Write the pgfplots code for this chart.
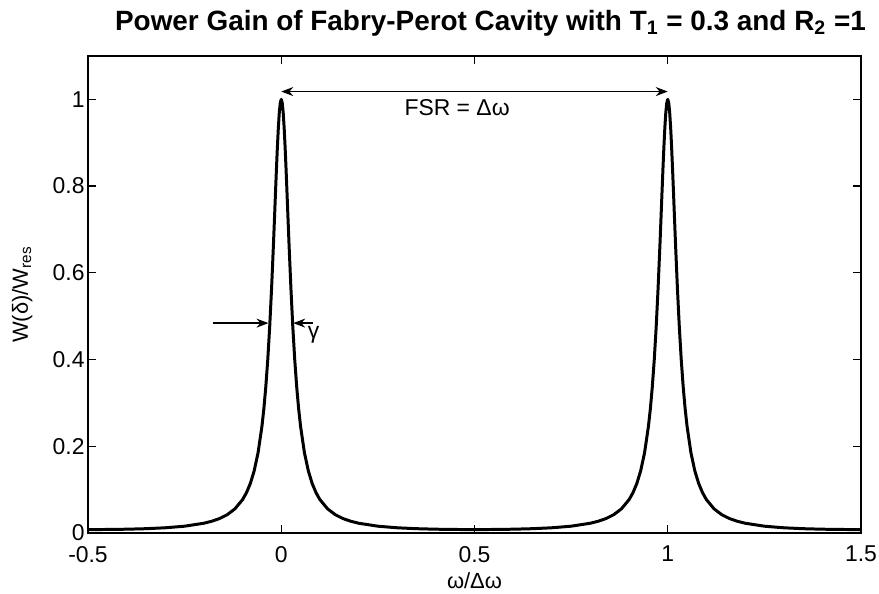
\documentclass[border=0pt]{standalone}
\usepackage{fontspec}
\setmainfont{Liberation Sans}
\usepackage{pgfplots}
\pgfplotsset{compat=1.18}
\usetikzlibrary{arrows.meta}
\begin{document}
\begin{tikzpicture}
\begin{axis}[
  name=ax,
  scale only axis, width=386.5bp, height=238.5bp,
  xmin=-0.5, xmax=1.5, ymin=0, ymax=1.1,
  xtick={-0.5,0,0.5,1,1.5}, xticklabels={-0.5,0,0.5,1,1.5},
  ytick={0,0.2,0.4,0.6,0.8,1}, yticklabels={0,0.2,0.4,0.6,0.8,1},
  tick align=inside, tick pos=both, major tick length=4bp,
  axis line style={line width=0.6pt},
  every tick/.style={line width=0.6pt, black},
  ticklabel style={font=\fontsize{11.5}{13}\selectfont},
  xticklabel style={yshift=-3bp},
  yticklabel style={xshift=1.8bp},
  xlabel={ω/Δω}, ylabel={W(δ)/W\textsubscript{res}},
  label style={font=\fontsize{11}{13}\selectfont},
  xlabel style={at={(axis description cs:0.5,-0.1)}, anchor=center},
  ylabel style={at={(axis description cs:-0.085,0.5)}, anchor=center},
  title={Power Gain of Fabry-Perot Cavity with T\textsubscript{1} = 0.3 and R\textsubscript{2} =1},
  title style={font=\fontsize{14}{16}\bfseries\selectfont, at={(axis description cs:0.5,1)}, anchor=center, yshift=10.5bp, xshift=8bp},
  clip=false,
]
\addplot[black, line width=1.5pt, line join=round] coordinates {
(-0.5,0.00791) (-0.45,0.00811) (-0.4,0.00874) (-0.35,0.00994) (-0.3,0.01203) (-0.25,0.01569) (-0.2,0.02255) (-0.18,0.02702) (-0.16,0.03321) (-0.14,0.04212) (-0.12,0.05556) (-0.1,0.07705) (-0.09,0.09291) (-0.08,0.11419) (-0.07,0.14349) (-0.06,0.18504) (-0.05,0.24572) (-0.045,0.28651) (-0.04,0.33666) (-0.035,0.39833) (-0.03,0.47373) (-0.025,0.56433) (-0.02,0.66909) (-0.0175,0.72529) (-0.015,0.78227) (-0.0125,0.83798) (-0.01,0.88987) (-0.0075,0.93491) (-0.005,0.96998) (-0.0025,0.99232) (0,1)
(0.0025,0.99232) (0.005,0.96998) (0.0075,0.93491) (0.01,0.88987) (0.0125,0.83798) (0.015,0.78227) (0.0175,0.72529) (0.02,0.66909) (0.025,0.56433) (0.03,0.47373) (0.035,0.39833) (0.04,0.33666) (0.045,0.28651) (0.05,0.24572) (0.06,0.18504) (0.07,0.14349) (0.08,0.11419) (0.09,0.09291) (0.1,0.07705) (0.12,0.05556) (0.14,0.04212) (0.16,0.03321) (0.18,0.02702) (0.2,0.02255) (0.25,0.01569) (0.3,0.01203) (0.35,0.00994) (0.4,0.00874) (0.45,0.00811) (0.5,0.00791)
(0.55,0.00811) (0.6,0.00874) (0.65,0.00994) (0.7,0.01203) (0.75,0.01569) (0.8,0.02255) (0.82,0.02702) (0.84,0.03321) (0.86,0.04212) (0.88,0.05556) (0.9,0.07705) (0.91,0.09291) (0.92,0.11419) (0.93,0.14349) (0.94,0.18504) (0.95,0.24572) (0.955,0.28651) (0.96,0.33666) (0.965,0.39833) (0.97,0.47373) (0.975,0.56433) (0.98,0.66909) (0.9825,0.72529) (0.985,0.78227) (0.9875,0.83798) (0.99,0.88987) (0.9925,0.93491) (0.995,0.96998) (0.9975,0.99232) (1,1)
(1.0025,0.99232) (1.005,0.96998) (1.0075,0.93491) (1.01,0.88987) (1.0125,0.83798) (1.015,0.78227) (1.0175,0.72529) (1.02,0.66909) (1.025,0.56433) (1.03,0.47373) (1.035,0.39833) (1.04,0.33666) (1.045,0.28651) (1.05,0.24572) (1.06,0.18504) (1.07,0.14349) (1.08,0.11419) (1.09,0.09291) (1.1,0.07705) (1.12,0.05556) (1.14,0.04212) (1.16,0.03321) (1.18,0.02702) (1.2,0.02255) (1.25,0.01569) (1.3,0.01203) (1.35,0.00994) (1.4,0.00874) (1.45,0.00811) (1.5,0.00791)
};
\draw[line width=0.7pt, {Stealth[length=6bp,width=4.5bp]}-{Stealth[length=6bp,width=4.5bp]}] (axis cs:0,1.018) -- (axis cs:1,1.018);
\node[font=\fontsize{11.5}{13}\selectfont] at (axis cs:0.455,0.98) {FSR = Δω};
\draw[line width=0.7pt, -{Stealth[length=6bp,width=4.5bp]}] (axis cs:-0.177,0.484) -- (axis cs:-0.033,0.484);
\draw[line width=0.7pt, -{Stealth[length=6bp,width=4.5bp]}] (axis cs:0.081,0.484) -- (axis cs:0.031,0.484);
\node[font=\fontsize{11.5}{13}\selectfont] at (axis cs:0.084,0.456) {γ};
\end{axis}
\pgfresetboundingbox
\path ([xshift=-44bp,yshift=-30.5bp]ax.south west) rectangle ([xshift=9bp,yshift=28bp]ax.north east);
\end{tikzpicture}
\end{document}
